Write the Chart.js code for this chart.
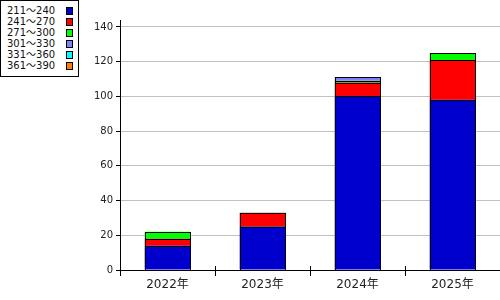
<!DOCTYPE html>
<html>
<head>
<meta charset="utf-8">
<script src="https://cdn.jsdelivr.net/npm/chart.js@4"></script>
<style>
  html, body { margin:0; padding:0; background:#fff; }
  #wrap { position:relative; width:500px; height:300px; }
  #legend {
    position:absolute; left:0; top:0; width:77px; height:71px;
    border:1px solid #000; background:#fff; padding-top:4px;
    font:10px "DejaVu Sans", "Noto Sans CJK JP", sans-serif; color:#111;
  }
  #legend .row { position:relative; height:11px; line-height:11px; padding-left:6px; }
  #legend .box {
    position:absolute; left:65px; top:2px; width:5px; height:6px; border:1px solid #000;
  }
</style>
</head>
<body>
<div id="wrap">
  <canvas id="c" width="500" height="300"></canvas>
  <div id="legend"></div>
</div>
<script>
// カテゴリ（年）
const YEARS = ["2022年", "2023年", "2024年", "2025年"];

// 系列名と色
const SERIES = ["211～240", "241～270", "271～300", "301～330", "331～360", "361～390"];
const COLORS = ["#0000cc", "#ff0000", "#00ff00", "#8080ff", "#00ffff", "#ff8000"];

// 各系列の値（年ごと）
const S211 = [14, 25, 100, 98];
const S241 = [4, 8, 8, 23];
const S271 = [4, 0, 1, 4];
const S301 = [0, 0, 2, 0];
const S331 = [0, 0, 0, 0];
const S361 = [0, 0, 0, 0];
const VALUES = [S211, S241, S271, S301, S331, S361];

// Y軸目盛
const Y_TICKS = [0, 20, 40, 60, 80, 100, 120, 140];
const Y_MAX = 144;

// 凡例（HTML）
const legend = document.getElementById("legend");
SERIES.forEach((name, i)=>{
  const row = document.createElement("div");
  row.className = "row";
  row.innerHTML = `${name}<span class="box" style="background:${COLORS[i]}"></span>`;
  legend.appendChild(row);
});

// 棒の枠線（1px, ピクセル境界に合わせて描く）
const barOutline = {
  id: "barOutline",
  afterDatasetsDraw(chart){
    const ctx = chart.ctx;
    ctx.save();
    ctx.strokeStyle = "#000";
    ctx.lineWidth = 1;
    chart.data.datasets.forEach((ds, i)=>{
      chart.getDatasetMeta(i).data.forEach((bar, j)=>{
        if(ds.data[j] == null) return;
        const p = bar.getProps(["x", "y", "base", "width"], true);
        const l = Math.round(p.x - p.width/2), r = Math.round(p.x + p.width/2);
        const t = Math.round(Math.min(p.y, p.base)), b = Math.round(Math.max(p.y, p.base));
        ctx.strokeRect(l + 0.5, t + 0.5, r - l, b - t);
      });
    });
    ctx.restore();
  }
};

// X軸の目盛線を軸の上側にも少し伸ばす
const tickCross = {
  id: "tickCross",
  afterDraw(chart){
    const x = chart.scales.x, ctx = chart.ctx;
    ctx.save();
    ctx.strokeStyle = "#000";
    ctx.lineWidth = 1;
    for(let i=1;i<x.ticks.length;i++){
      const px = Math.round((x.getPixelForTick(i-1)+x.getPixelForTick(i))/2)+0.5;
      ctx.beginPath();
      ctx.moveTo(px, x.top-4);
      ctx.lineTo(px, x.top);
      ctx.stroke();
    }
    ctx.restore();
  }
};

new Chart(document.getElementById("c"), {
  type: "bar",
  data: {
    labels: YEARS,
    datasets: SERIES.map((name, i)=>({
      label: name,
      data: VALUES[i].map(v => v === 0 ? null : v),
      backgroundColor: COLORS[i],
      borderWidth: 0,
      inflateAmount: 0,
      categoryPercentage: 1,
      barPercentage: 0.48
    }))
  },
  options: {
    responsive: false,
    animation: false,
    layout: { padding: { top: 20, right: 0, left: 0, bottom: 0 } },
    plugins: { legend: { display:false }, tooltip: { enabled:false } },
    scales: {
      x: {
        stacked: true,
        afterFit: s => { s.height = 30; },
        grid: { offset: true, drawOnChartArea: false, color: "#000", tickLength: 6 },
        border: { color: "#000", width: 1 },
        ticks: { color: "#222", padding: 2, font: { family: "DejaVu Sans, Noto Sans CJK JP", size: 12 } }
      },
      y: {
        stacked: true,
        min: 0,
        max: Y_MAX,
        afterFit: s => { s.width = 120; },
        afterBuildTicks: s => { s.ticks = Y_TICKS.map(v => ({value: v})); },
        grid: { color: "#c0c0c0", tickColor: "#000", tickLength: 4 },
        border: { color: "#000", width: 1 },
        ticks: { color: "#222", padding: 3, font: { family: "DejaVu Sans", size: 10 } }
      }
    }
  },
  plugins: [barOutline, tickCross]
});
</script>
</body>
</html>
